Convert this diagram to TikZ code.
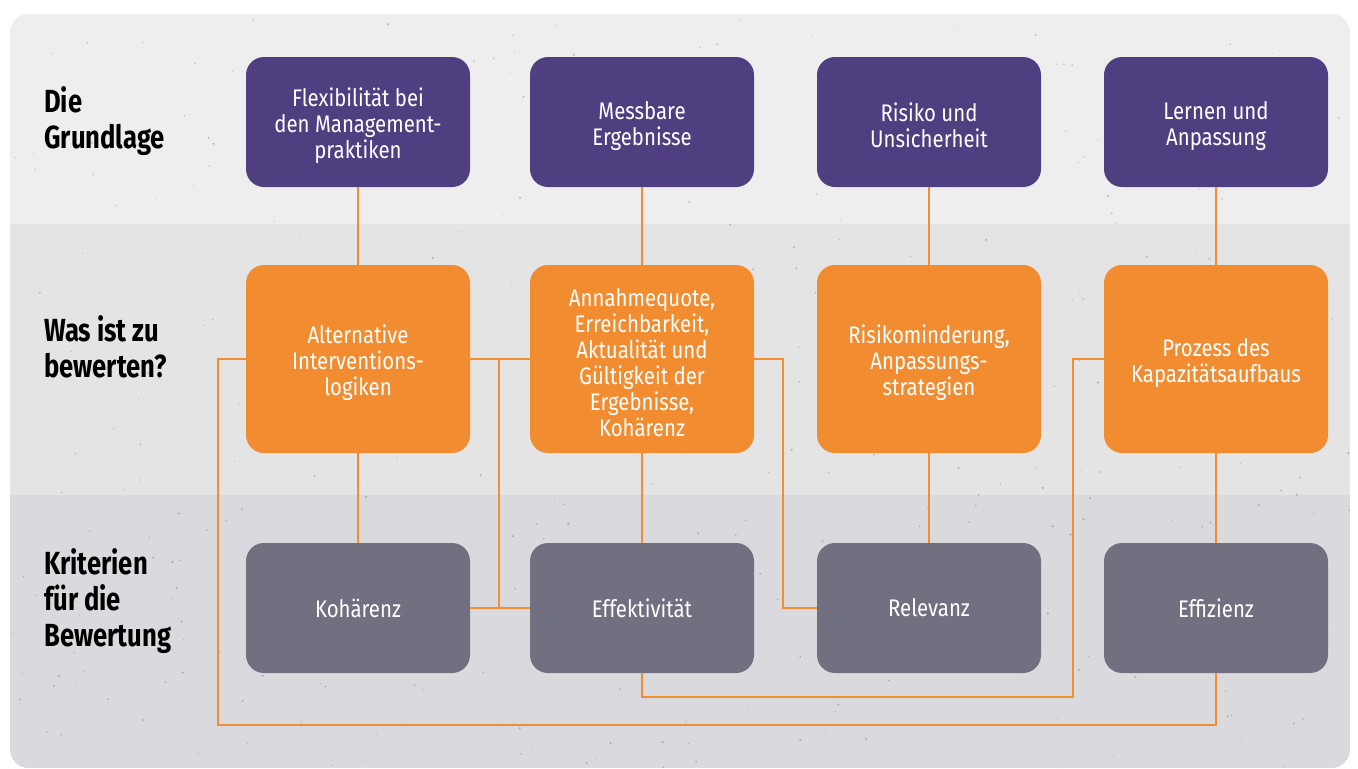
\documentclass[tikz,border=0pt]{standalone}
\usepackage{fontspec}
\setmainfont{Fira Sans}
\newfontfamily\boxfont{Fira Sans}[FakeStretch=0.85]
\newfontfamily\rowfont{Fira Sans}[FakeStretch=0.8]
\usepackage{xcolor}
\usepackage{tikz}

\definecolor{basis}{HTML}{4F3F80}
\definecolor{wert}{HTML}{F18C30}
\definecolor{krit}{HTML}{707081}
\definecolor{bandA}{HTML}{EEEEEE}
\definecolor{bandB}{HTML}{E4E4E4}
\definecolor{bandC}{HTML}{D9D9DE}
\definecolor{linkorange}{HTML}{F28E2F}

% taller first line, pushes the text block a little down
\newcommand\boxlift{\rule{0pt}{19pt}}

\tikzset{
box/.style={rounded corners=13.5pt, minimum width=168pt, inner sep=0pt, text=white, align=center, font=\boxfont\fontsize{18}{19.5}\selectfont},
basebox/.style={box, fill=basis, minimum height=97.5pt},
evalbox/.style={box, fill=wert, minimum height=141pt},
critbox/.style={box, fill=krit, minimum height=97.5pt},
rowlabel/.style={anchor=west, align=left, inner sep=0pt, font=\rowfont\bfseries\fontsize{24}{27}\selectfont},
link/.style={draw=linkorange, line width=2pt}
}

\begin{document}
\begin{tikzpicture}[x=0.75pt, y=-0.75pt]
\useasboundingbox (0,0) rectangle (1358,768);

\begin{scope}
\clip[rounded corners=14pt] (10,14) rectangle (1350,768);
\fill[bandA] (10,14) rectangle (1350,224);
\fill[bandB] (10,224) rectangle (1350,495);
\fill[bandC] (10,495) rectangle (1350,768);
\pgfmathsetseed{7}
\foreach \i in {1,...,420}
\fill[black, opacity=0.22] ({10+1340*rnd},{14+754*rnd}) circle ({0.3pt+0.6pt*rnd});
\end{scope}

\node[rowlabel] (grund) at (44,121) {Die\\Grundlage};
\node[rowlabel] (was) at (44,347) {Was ist zu\\bewerten?};
\node[rowlabel] (krit) at (44,601) {Kriterien\\für die\\Bewertung};

\node[basebox] (flex) at (358,122) {\boxlift Flexibilität bei\\den Management-\\praktiken};
\node[basebox] (mess) at (642,122) {\boxlift Messbare\\Ergebnisse};
\node[basebox] (risk) at (929,122) {\boxlift Risiko und\\Unsicherheit};
\node[basebox] (lern) at (1216,122) {\boxlift Lernen und\\Anpassung};

\node[evalbox] (alt) at (358,359) {\boxlift Alternative\\Interventions-\\logiken};
\node[evalbox] (annahme) at (642,359) {\boxlift Annahmequote,\\Erreichbarkeit,\\Aktualität und\\Gültigkeit der\\Ergebnisse,\\Kohärenz};
\node[evalbox] (mind) at (929,359) {\boxlift Risikominderung,\\Anpassungs-\\strategien};
\node[evalbox] (prozess) at (1216,359) {\boxlift Prozess des\\Kapazitätsaufbaus};

\node[critbox] (koh) at (358,608) {Kohärenz};
\node[critbox] (eff) at (642,608) {Effektivität};
\node[critbox] (rel) at (929,608) {Relevanz};
\node[critbox] (effz) at (1216,608) {Effizienz};

\foreach \a/\b in {flex/alt, mess/annahme, risk/mind, lern/prozess, alt/koh, annahme/eff, mind/rel, prozess/effz}
\draw[link] (\a) -- (\b);

\draw[link] (alt) -- (annahme);
\draw[link] (499,359) -- (499,608);
\draw[link] (koh) -- (eff);
\draw[link] (annahme.east) -| (783,608) -- (rel.west);
\draw[link] (prozess.west) -| (1073,697) -| (eff.south);
\draw[link] (alt.west) -| (218,725) -| (effz.south);
\end{tikzpicture}
\end{document}
